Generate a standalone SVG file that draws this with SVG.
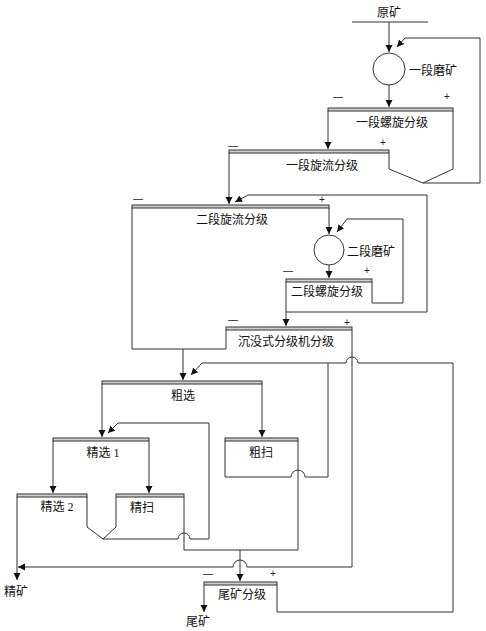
<svg xmlns="http://www.w3.org/2000/svg" width="486" height="631" viewBox="0 0 486 631">
<style>
.ln{fill:none;stroke:#333;stroke-width:1}
.ar{fill:none;stroke:#333;stroke-width:1;marker-end:url(#arr)}
.bar{fill:#d0d0d0;stroke:#333;stroke-width:1}
.mill{fill:#fff;stroke:#333;stroke-width:1}
.t{font-family:"Liberation Serif","Noto Sans CJK SC",serif;font-size:12px;fill:#111}
.c{text-anchor:middle}
.s{font-family:"Liberation Sans",sans-serif;font-size:10px;fill:#222;text-anchor:middle}
</style>
<defs>
<marker id="arr" markerUnits="userSpaceOnUse" markerWidth="8" markerHeight="8" refX="7" refY="4" orient="auto">
<path d="M0,0.5 L7,4 L0,7.5 z" fill="#111"/>
</marker>
</defs>
<rect width="486" height="631" fill="#fff"/>

<g id="feed">
<path class="ln" d="M352,22 H428"/>
<text class="t c" x="389" y="17">原矿</text>
</g>

<g id="mill1">
<circle class="mill" cx="389" cy="69" r="16"/>
<text class="t" x="409" y="75">一段磨矿</text>
</g>

<g id="spiral1">
<rect class="bar" x="328" y="108" width="125" height="3"/>
<text class="t c" x="392" y="127">一段螺旋分级</text>
<text class="s" x="338" y="100">—</text>
<text class="s" x="447" y="100">+</text>
</g>

<g id="cyclone1">
<rect class="bar" x="229" y="150" width="160" height="3"/>
<text class="t c" x="322" y="170">一段旋流分级</text>
<text class="s" x="233" y="149">—</text>
<text class="s" x="383" y="146">+</text>
</g>

<g id="cyclone2">
<rect class="bar" x="132" y="205" width="197" height="3"/>
<text class="t c" x="232" y="224">二段旋流分级</text>
<text class="s" x="138" y="202">—</text>
<text class="s" x="322" y="203">+</text>
</g>

<g id="mill2">
<circle class="mill" cx="329" cy="250" r="15"/>
<text class="t" x="347" y="256">二段磨矿</text>
</g>

<g id="spiral2">
<rect class="bar" x="286" y="279" width="86" height="3"/>
<text class="t c" x="327" y="296">二段螺旋分级</text>
<text class="s" x="288" y="274">—</text>
<text class="s" x="367" y="274">+</text>
</g>

<g id="classifier">
<rect class="bar" x="226" y="327" width="126" height="3"/>
<text class="t c" x="286" y="346">沉没式分级机分级</text>
<text class="s" x="233" y="323">—</text>
<text class="s" x="347" y="326">+</text>
</g>

<g id="rougher">
<rect class="bar" x="102" y="381" width="160" height="3"/>
<text class="t c" x="183" y="400">粗选</text>
</g>

<g id="cleaner1">
<rect class="bar" x="53" y="438" width="96" height="3"/>
<text class="t c" x="103" y="457">精选 1</text>
</g>

<g id="scav1">
<rect class="bar" x="225" y="438" width="73" height="3"/>
<text class="t c" x="261" y="457">粗扫</text>
</g>

<g id="cleaner2">
<rect class="bar" x="17" y="494" width="70" height="3"/>
<text class="t c" x="57" y="511">精选 2</text>
</g>

<g id="cleanscav">
<rect class="bar" x="116" y="494" width="68" height="3"/>
<text class="t c" x="142" y="512">精扫</text>
</g>

<g id="tailclass">
<rect class="bar" x="204" y="582" width="73" height="3"/>
<text class="t c" x="242" y="599">尾矿分级</text>
<text class="s" x="208" y="577">—</text>
<text class="s" x="273" y="577">+</text>
</g>

<g id="conc">
<text class="t c" x="16" y="596">精矿</text>
</g>

<g id="tail">
<text class="t c" x="198" y="626">尾矿</text>
</g>

<g id="connectors">
<path class="ar" d="M389,22 V52"/>
<path class="ar" d="M389,85 V107"/>
<path class="ar" d="M328,111 V149"/>
<path class="ln" d="M453,111 V169 L423,183 L389,169 V153"/>
<path class="ar" d="M423,183 H480 V38 H405 L397,47"/>
<path class="ar" d="M229,153 V204"/>
<path class="ln" d="M132,208 V349 H226 V330"/>
<path class="ar" d="M329,208 V234"/>
<path class="ar" d="M329,265 V278"/>
<path class="ar" d="M286,282 V326"/>
<path class="ar" d="M372,282 V303 H403 V219 H347 L337,232"/>
<path class="ar" d="M286,312 H427 V195 H248 L235,202"/>
<path class="ln" d="M352,330 V567"/>
<path class="ar" d="M352,567 H247 A7,7 0 0 0 233,567 H18"/>
<path class="ar" d="M183,349 V380"/>
<path class="ar" d="M102,384 V437"/>
<path class="ar" d="M262,384 V437"/>
<path class="ar" d="M277,585 V612 H453 V363 H358 A6,6 0 0 0 346,363 H202 L191,375"/>
<path class="ln" d="M328,363 V477 H305 A7,7 0 0 0 291,477 H225 V441"/>
<path class="ln" d="M298,441 V550 H184 V497"/>
<path class="ar" d="M53,441 V493"/>
<path class="ar" d="M149,441 V493"/>
<path class="ar" d="M17,497 V580"/>
<path class="ln" d="M87,497 V527 L103,539 L116,527 V497"/>
<path class="ar" d="M103,539 H178 A6,6 0 0 1 190,539 H209 V423 H118 L108,433"/>
<path class="ar" d="M240,550 V581"/>
<path class="ar" d="M204,585 V612"/>
</g>
</svg>
